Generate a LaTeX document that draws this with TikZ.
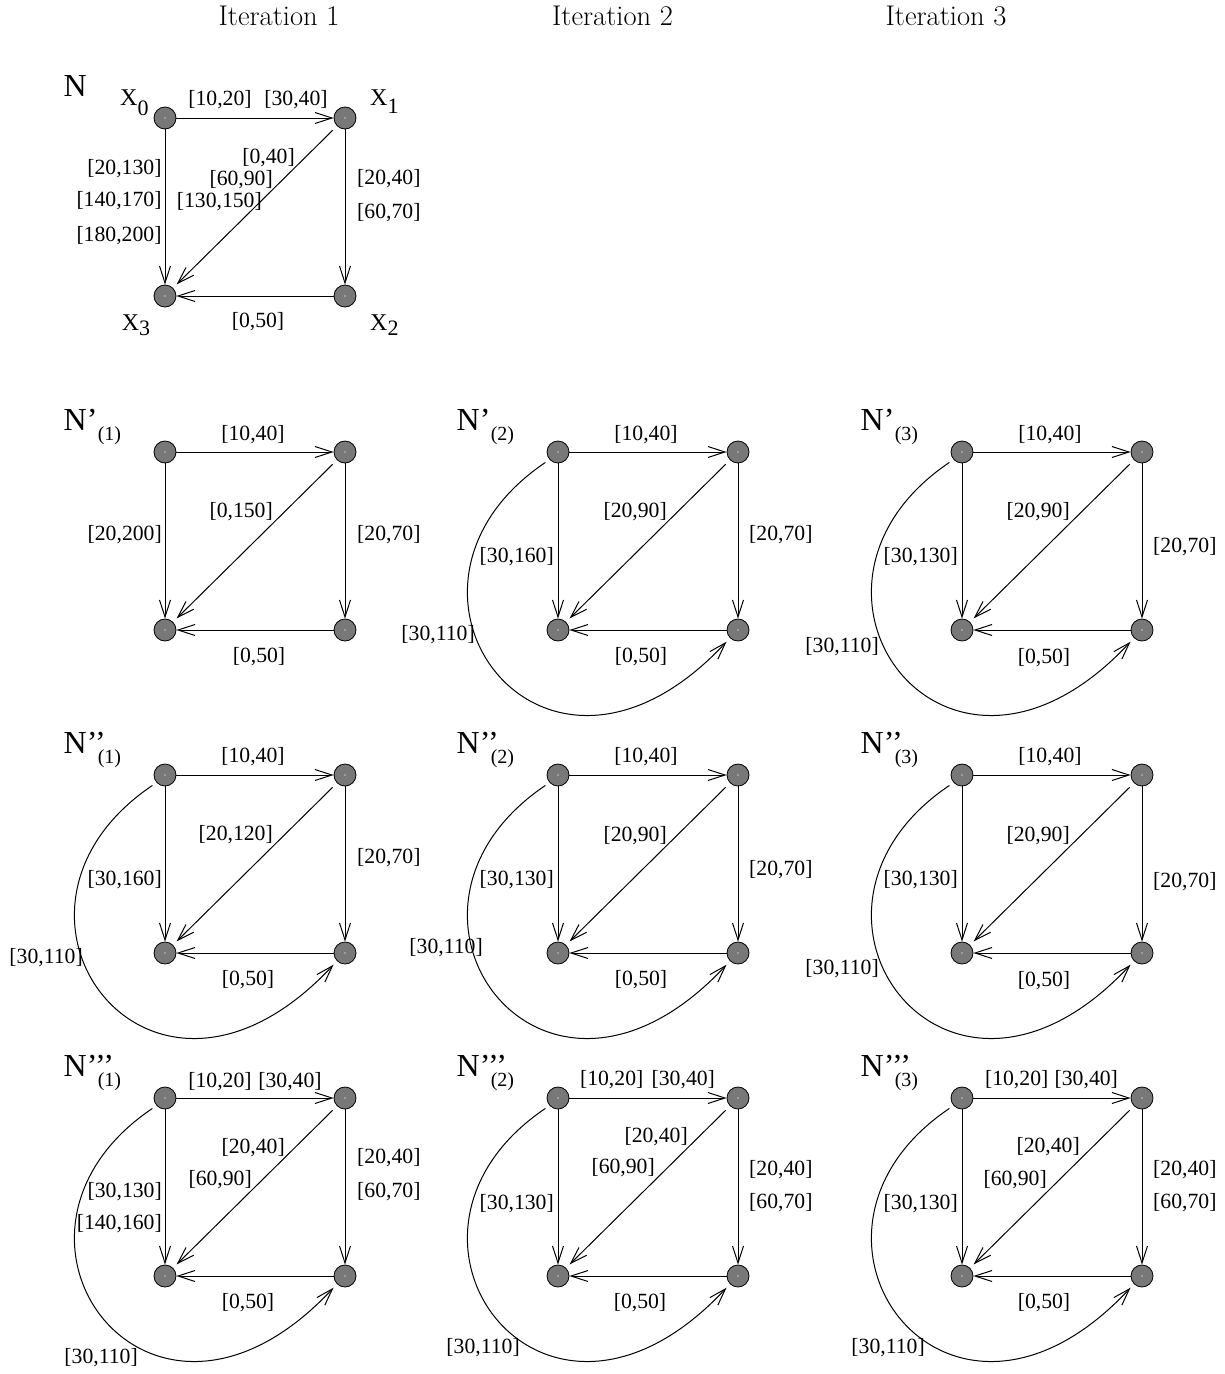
\documentclass[tikz,border=0pt]{standalone}
\usepackage{fontspec}
\newfontfamily\tfont{Liberation Serif}
\usetikzlibrary{arrows.meta}
\definecolor{nodegray}{RGB}{120,120,120}
\newcommand\labfont{\tfont\fontsize{21.7}{24}\selectfont}
\newcommand\bigNfont{\tfont\fontsize{32}{34}\selectfont}
\newcommand\subNfont{\tfont\fontsize{20}{22}\selectfont}
\newcommand\Xfont{\tfont\fontsize{24}{26}\selectfont}
\newcommand\Xsubfont{\tfont\fontsize{22}{24}\selectfont}
\tikzset{
  vtx/.style={circle, draw=black, line width=0.8pt, fill=nodegray,
    minimum size=22pt, inner sep=0pt,
    path picture={\fill[nodegray!45!white] (path picture bounding box.center) circle (0.8pt);}},
  conn/.style={line width=1pt, -{Straight Barb[length=17pt,width=11pt]}},
  lbl/.style={font=\labfont, inner sep=0pt},
  ttl/.style={anchor=base, font=\fontsize{28.5}{32}\selectfont},
}
\newcommand\netbase{%
  \node[vtx] (a) at (0,0) {};
  \node[vtx] (b) at (180,0) {};
  \node[vtx] (c) at (180,-178) {};
  \node[vtx] (d) at (0,-178) {};
  \draw[conn] (a) -- (b);
  \draw[conn] (a) -- (d);
  \draw[conn] (b) -- (c);
  \draw[conn] (c) -- (d);
  \draw[conn, shorten <=6pt, shorten >=5pt] (b.225) -- (d.45);
}
\newcommand\netcurve{%
  \draw[conn, shorten <=5pt, shorten >=5pt] (a.222) .. controls +(214:230) and +(227:275) .. (c.225);
}
\newcommand\Lb[5]{\node[lbl, anchor=#2] (#1) at ({#3},{-(#4)}) {#5};}
\newcommand\Nlab[2]{\node[anchor=base west, inner sep=0pt] (nm) at (-101.5,22)
  {\bigNfont N\rlap{#1}\hspace{11pt}\raisebox{-10pt}{\subNfont(#2)}};}
\begin{document}
\begin{tikzpicture}[x=1pt,y=1pt]
\useasboundingbox (0,0) rectangle (1225,-1374);
\node[ttl] (it1) at (279,-25) {Iteration 1};
\node[ttl] (it2) at (612.5,-25) {Iteration 2};
\node[ttl] (it3) at (946,-25) {Iteration 3};

% ---- N ----
\begin{scope}[shift={(165,-118)}, name prefix=g0-]
\netbase
\node[anchor=base west, inner sep=0pt] (nm) at (-101.5,22) {\bigNfont N};
\node[anchor=base west, inner sep=0pt] (xa) at (-45,12.3) {\Xfont X\raisebox{-10pt}{\Xsubfont 0}};
\node[anchor=base west, inner sep=0pt] (xb) at (205,13) {\Xfont X\raisebox{-8pt}{\Xsubfont 1}};
\node[anchor=base west, inner sep=0pt] (xd) at (-43.3,-212) {\Xfont X\raisebox{-5pt}{\Xsubfont 3}};
\node[anchor=base west, inner sep=0pt] (xc) at (205,-212) {\Xfont X\raisebox{-5pt}{\Xsubfont 2}};
\Lb{t1}{center}{55}{-18}{[10,20]}
\Lb{t2}{center}{131}{-18}{[30,40]}
\Lb{l1}{east}{-3.3}{51}{[20,130]}
\Lb{l2}{east}{-3.3}{83}{[140,170]}
\Lb{l3}{east}{-3.3}{117.5}{[180,200]}
\Lb{g1}{east}{130}{39.5}{[0,40]}
\Lb{g2}{east}{108}{62}{[60,90]}
\Lb{g3}{east}{97}{84}{[130,150]}
\Lb{r1}{west}{192}{61}{[20,40]}
\Lb{r2}{west}{192}{95}{[60,70]}
\Lb{bt}{center}{93}{204}{[0,50]}
\end{scope}

% ---- row 2 ----
\begin{scope}[shift={(165,-452)}, name prefix=r2c1-]
\netbase
\Nlab{’}{1}
\Lb{t1}{center}{88}{-17}{[10,40]}
\Lb{g1}{east}{108}{60}{[0,150]}
\Lb{l1}{east}{-3}{83}{[20,200]}
\Lb{r1}{west}{192}{83}{[20,70]}
\Lb{bt}{center}{94}{205}{[0,50]}
\end{scope}

\begin{scope}[shift={(558,-452)}, name prefix=r2c2-]
\netbase
\netcurve
\Nlab{’}{2}
\Lb{t1}{center}{88}{-17}{[10,40]}
\Lb{g1}{east}{109}{60}{[20,90]}
\Lb{l1}{east}{-4}{105}{[30,160]}
\Lb{r1}{west}{191}{83}{[20,70]}
\Lb{cv}{east}{-83}{183}{[30,110]}
\Lb{bt}{center}{83}{205}{[0,50]}
\end{scope}

\begin{scope}[shift={(962,-452)}, name prefix=r2c3-]
\netbase
\netcurve
\Nlab{’}{3}
\Lb{t1}{center}{88}{-17}{[10,40]}
\Lb{g1}{east}{108}{60}{[20,90]}
\Lb{l1}{east}{-4}{105}{[30,130]}
\Lb{r1}{west}{191}{95}{[20,70]}
\Lb{cv}{east}{-83}{195}{[30,110]}
\Lb{bt}{center}{82}{206}{[0,50]}
\end{scope}

% ---- row 3 ----
\begin{scope}[shift={(165,-775)}, name prefix=r3c1-]
\netbase
\netcurve
\Nlab{’’}{1}
\Lb{t1}{center}{88}{-18}{[10,40]}
\Lb{g1}{east}{108}{60}{[20,120]}
\Lb{l1}{east}{-3}{105}{[30,160]}
\Lb{r1}{west}{192}{83}{[20,70]}
\Lb{cv}{east}{-82}{183}{[30,110]}
\Lb{bt}{center}{83}{205}{[0,50]}
\end{scope}

\begin{scope}[shift={(558,-775)}, name prefix=r3c2-]
\netbase
\netcurve
\Nlab{’’}{2}
\Lb{t1}{center}{88}{-18}{[10,40]}
\Lb{g1}{east}{109}{61}{[20,90]}
\Lb{l1}{east}{-4}{105}{[30,130]}
\Lb{r1}{west}{191}{95}{[20,70]}
\Lb{cv}{east}{-75}{173}{[30,110]}
\Lb{bt}{center}{83}{205}{[0,50]}
\end{scope}

\begin{scope}[shift={(962,-775)}, name prefix=r3c3-]
\netbase
\netcurve
\Nlab{’’}{3}
\Lb{t1}{center}{88}{-18}{[10,40]}
\Lb{g1}{east}{108}{61}{[20,90]}
\Lb{l1}{east}{-4}{105}{[30,130]}
\Lb{r1}{west}{191}{107}{[20,70]}
\Lb{cv}{east}{-83}{194}{[30,110]}
\Lb{bt}{center}{82}{206}{[0,50]}
\end{scope}

% ---- row 4 ----
\begin{scope}[shift={(165,-1098)}, name prefix=r4c1-]
\netbase
\netcurve
\Nlab{’’’}{1}
\Lb{t1}{center}{55}{-16}{[10,20]}
\Lb{t2}{center}{125}{-16}{[30,40]}
\Lb{g1}{east}{120}{50}{[20,40]}
\Lb{g2}{east}{87}{82}{[60,90]}
\Lb{l1}{east}{-3}{94}{[30,130]}
\Lb{l2}{east}{-3}{126}{[140,160]}
\Lb{r1}{west}{192}{60}{[20,40]}
\Lb{r2}{west}{192}{94}{[60,70]}
\Lb{bt}{center}{83}{205}{[0,50]}
\Lb{cv}{east}{-27}{260}{[30,110]}
\end{scope}

\begin{scope}[shift={(558,-1098)}, name prefix=r4c2-]
\netbase
\netcurve
\Nlab{’’’}{2}
\Lb{t1}{center}{53.7}{-18}{[10,20]}
\Lb{t2}{center}{125.3}{-18}{[30,40]}
\Lb{g1}{east}{130}{39}{[20,40]}
\Lb{g2}{east}{97}{70}{[60,90]}
\Lb{l1}{east}{-4}{106}{[30,130]}
\Lb{r1}{west}{191}{72}{[20,40]}
\Lb{r2}{west}{191}{105}{[60,70]}
\Lb{bt}{center}{82}{205}{[0,50]}
\Lb{cv}{east}{-38}{250}{[30,110]}
\end{scope}

\begin{scope}[shift={(962,-1098)}, name prefix=r4c3-]
\netbase
\netcurve
\Nlab{’’’}{3}
\Lb{t1}{center}{54.7}{-18}{[10,20]}
\Lb{t2}{center}{124.3}{-18}{[30,40]}
\Lb{g1}{east}{118}{49}{[20,40]}
\Lb{g2}{east}{85}{82}{[60,90]}
\Lb{l1}{east}{-4}{106}{[30,130]}
\Lb{r1}{west}{191}{72}{[20,40]}
\Lb{r2}{west}{191}{105}{[60,70]}
\Lb{bt}{center}{82}{205}{[0,50]}
\Lb{cv}{east}{-37}{250}{[30,110]}
\end{scope}
\end{tikzpicture}
\end{document}
